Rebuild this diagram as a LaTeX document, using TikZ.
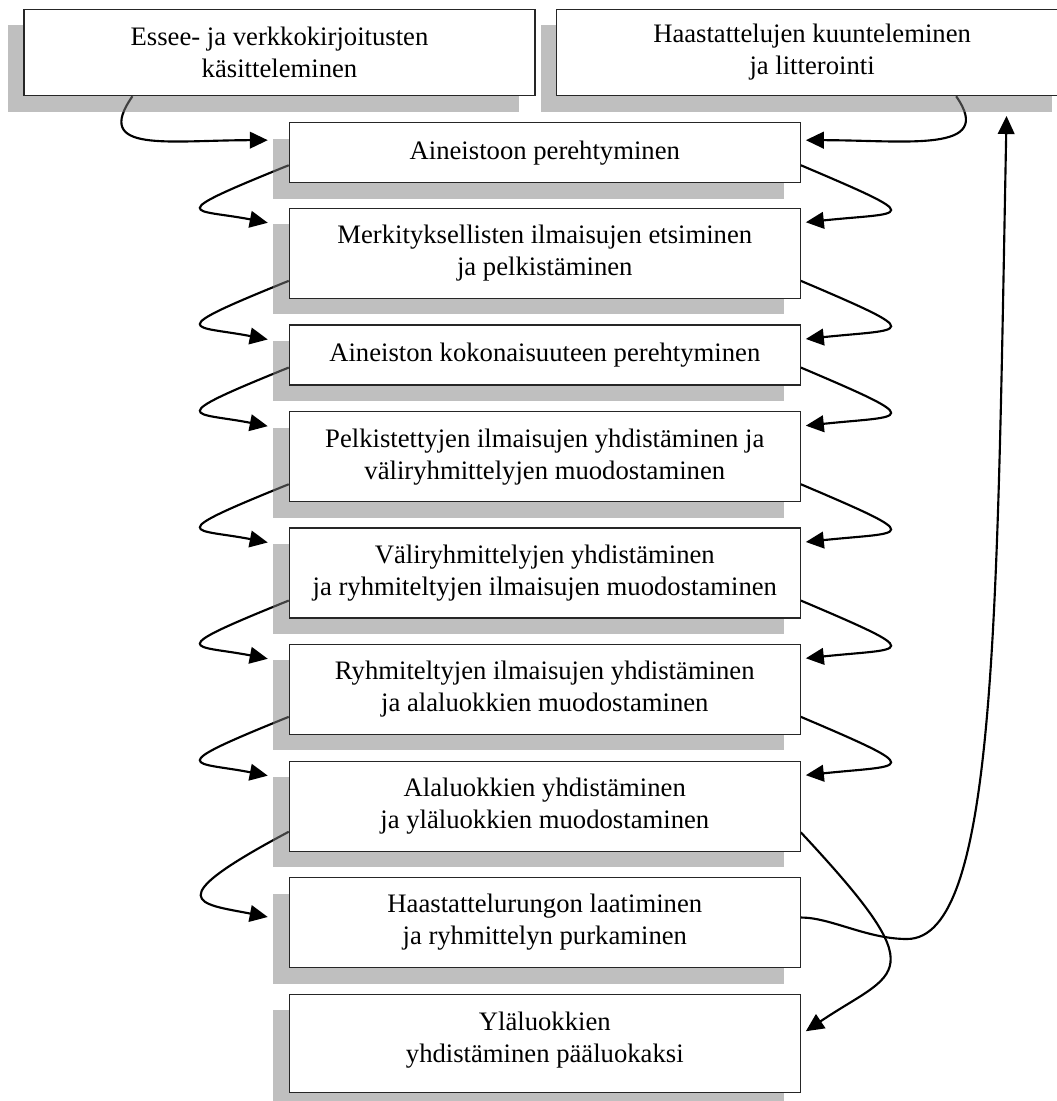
\documentclass[tikz,border=0pt]{standalone}
\usepackage{fontspec}
\setmainfont{Liberation Serif}
\usetikzlibrary{shadows,calc,arrows.meta}
\definecolor{shadowgray}{RGB}{128,128,128}
\pgfdeclarelayer{bg}
\pgfsetlayers{bg,main}
\begin{document}
\begin{tikzpicture}[x=0.75pt,y=0.75pt,
  box/.style={draw=black!85, line width=0.8pt, fill=white, minimum width=383.25pt,
    inner sep=0pt, align=center, font=\fontsize{20}{24}\selectfont,
    drop shadow={shadow xshift=-12pt, shadow yshift=-12pt, fill=shadowgray, opacity=0.5}},
  oneline/.style={minimum height=45pt},
  twoline/.style={minimum height=67.5pt},
  conn/.style={line width=1.6pt, -{Triangle[length=13.5pt,width=12.5pt]}}]
\useasboundingbox (0,0) rectangle (1057,-1101);
\clip (0,0) rectangle (1057,-1101);
% top boxes
\node[box, minimum height=64.8pt] (E) at (279.5,-52.5) {Essee- ja verkkokirjoitusten\\käsitteleminen};
\node[box, minimum height=64.8pt] (H) at (812.1,-52.5) {Haastattelujen kuunteleminen\\ja litterointi};
% central column
\node[box, oneline] (A1) at (544.8,-152.7) {Aineistoon perehtyminen};
\node[box, twoline] (A2) at (544.8,-253.3) {Merkityksellisten ilmaisujen etsiminen\\ja pelkistäminen};
\node[box, oneline] (A3) at (544.8,-355) {Aineiston kokonaisuuteen perehtyminen};
\node[box, twoline] (A4) at (544.8,-456.7) {Pelkistettyjen ilmaisujen yhdistäminen ja\\väliryhmittelyjen muodostaminen};
\node[box, twoline] (A5) at (544.8,-573) {Väliryhmittelyjen yhdistäminen\\ja ryhmiteltyjen ilmaisujen muodostaminen};
\node[box, twoline] (A6) at (544.8,-689.3) {Ryhmiteltyjen ilmaisujen yhdistäminen\\ja alaluokkien muodostaminen};
\node[box, twoline] (A7) at (544.8,-806.2) {Alaluokkien yhdistäminen\\ja yläluokkien muodostaminen};
\node[box, twoline] (A8) at (544.8,-922.5) {Haastattelurungon laatiminen\\ja ryhmittelyn purkaminen};
\node[box, minimum height=73.7pt, text depth=9pt] (A9) at (544.8,-1043.2) {Yläluokkien\\yhdistäminen pääluokaksi};
\coordinate (m) at (907,-939);
\begin{pgfonlayer}{bg}
\draw[conn] ($(E.south west)+(109,0)$) .. controls +(235:70) and +(180:100) .. ($(A1.north west)+(-21,-18)$);
\draw[conn] ($(H.south east)+(-112,0)$) .. controls +(305:70) and +(0:100) .. ($(A1.north east)+(5,-18)$);
\foreach \a/\b in {A1/A2,A2/A3,A3/A4,A4/A5,A5/A6,A6/A7}{
  \draw[conn] ($(\a.south west)+(0,18)$) .. controls +(202:140) and +(169:75) .. ($(\b.north west)+(-21,-15)$);
  \draw[conn] ($(\a.south east)+(0,18)$) .. controls +(337:140) and +(6:100) .. ($(\b.north east)+(5,-14.5)$);
}
\draw[conn] ($(A7.south west)+(0,20)$) .. controls +(208:150) and +(169:70) .. ($(A8.north west)+(-21,-40)$);
\draw[conn] ($(A7.south east)+(0,19.4)$) .. controls +(-47:200) and +(34:110) .. ($(A9.north east)+(5,-37.7)$);
\draw[conn] ($(A8.east)+(0,5)$) .. controls +(30,0) and +(-40,0) .. (m) .. controls +(90,0) and +(268.9:500) .. ($(H.south east)+(-61.6,-19.8)$);
\end{pgfonlayer}
\end{tikzpicture}
\end{document}
